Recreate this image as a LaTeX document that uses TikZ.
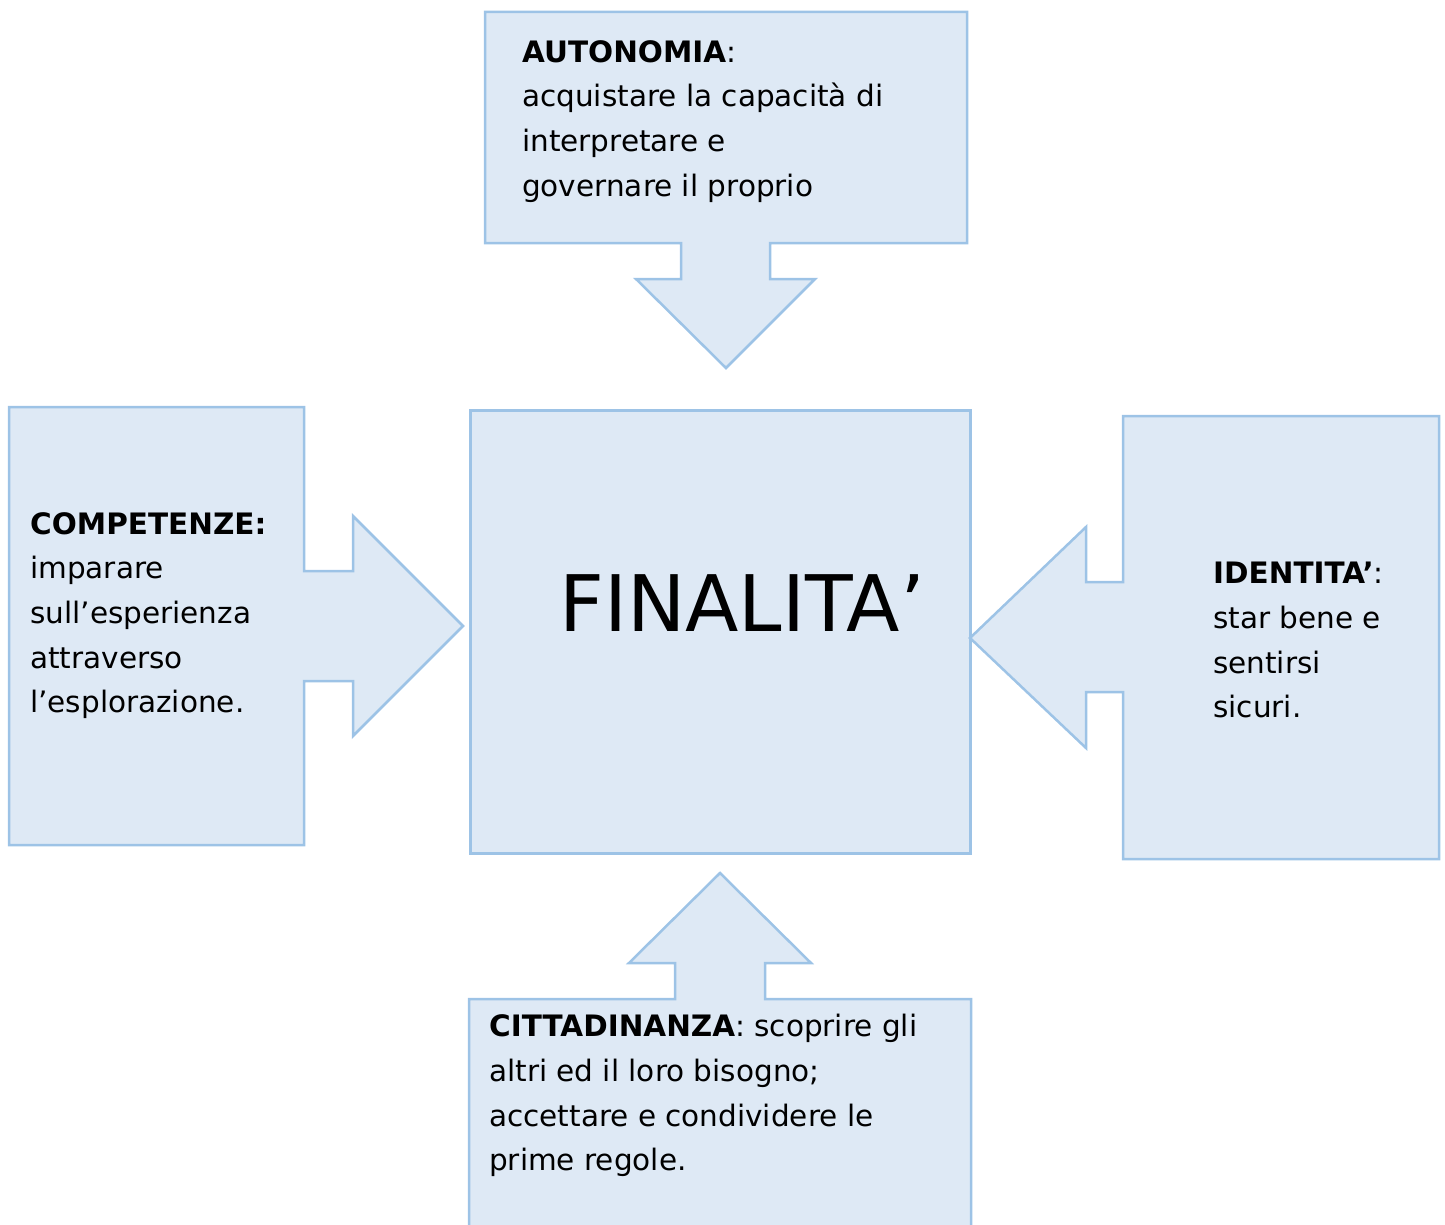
\documentclass[tikz,border=0pt]{standalone}
\usepackage{fontspec}
\setmainfont{DejaVu Sans}
\definecolor{boxfill}{HTML}{DEE9F5}
\definecolor{boxline}{HTML}{9DC3E6}
\begin{document}
\begin{tikzpicture}[x=1pt,y=-1pt,
  callout/.style={fill=boxfill,draw=boxline,line width=2.5pt,line join=miter},
  txt/.style={anchor=north west,inner sep=0pt,align=left,font=\fontsize{29.5}{44.7}\selectfont},
  big/.style={anchor=base west,inner sep=0pt,font=\fontsize{78}{82}\selectfont}]
\useasboundingbox (0,0) rectangle (1445,1225);
\clip (0,0) rectangle (1445,1225);
% central box
\node[callout,anchor=north west,minimum width=500pt,minimum height=443pt,inner sep=0pt] (centre) at (469,409) {};
\node[big] (fin) at (559,631) {FINALITA’};
% top callout
\draw[callout] (485,12) -- (967,12) -- (967,243) -- (770,243) -- (770,279) -- (815,279) -- (726,368) -- (636,279) -- (681,279) -- (681,243) -- (485,243) -- cycle;
\node[txt] (auto) at (522,40) {\textbf{AUTONOMIA}:\\acquistare la capacità di\\interpretare e\\governare il proprio};
% left callout
\draw[callout] (9,407) -- (304,407) -- (304,571) -- (353,571) -- (353,516) -- (463,626) -- (353,736) -- (353,681) -- (304,681) -- (304,845) -- (9,845) -- cycle;
\node[txt] (comp) at (30,512) {\textbf{COMPETENZE:}\\imparare\\sull’esperienza\\attraverso\\l’esplorazione.};
% right callout
\draw[callout] (1439,416) -- (1439,859) -- (1123,859) -- (1123,692) -- (1086,692) -- (1086,748) -- (970,638) -- (1086,527) -- (1086,582) -- (1123,582) -- (1123,416) -- cycle;
\node[txt] (ident) at (1213,562) {\textbf{IDENTITA’}:\\star bene e\\sentirsi\\sicuri.};
% bottom callout
\draw[callout] (469,999) -- (675,999) -- (675,963) -- (629,963) -- (720,873) -- (811,963) -- (765,963) -- (765,999) -- (971,999) -- (971,1245) -- (469,1245) -- cycle;
\node[txt] (citt) at (489,1014) {\textbf{CITTADINANZA}: scoprire gli\\altri ed il loro bisogno;\\accettare e condividere le\\prime regole.};
\end{tikzpicture}
\end{document}
